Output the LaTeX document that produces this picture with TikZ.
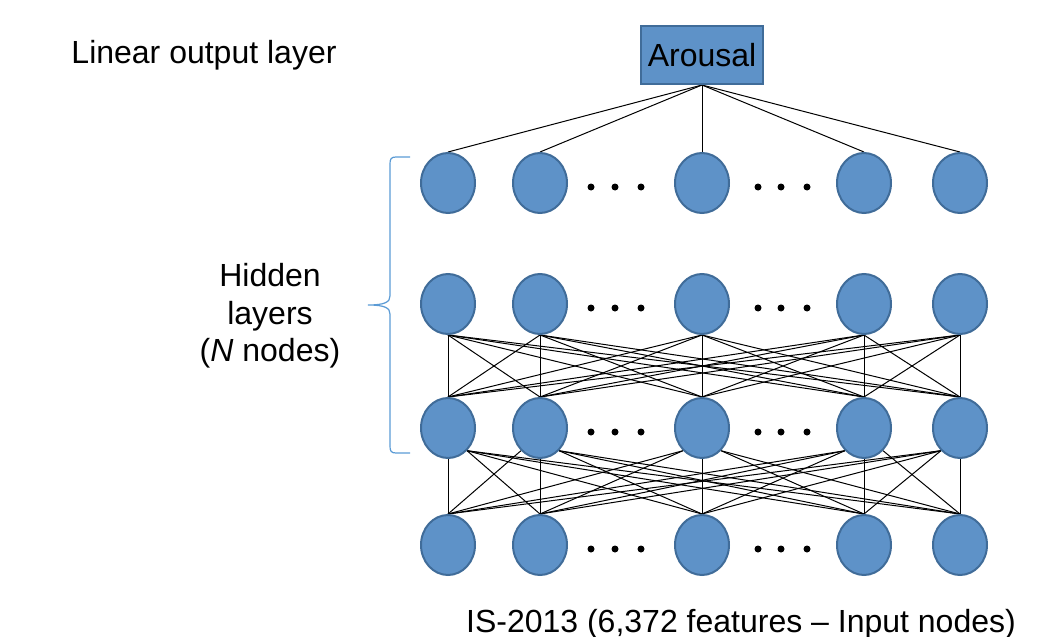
\documentclass[tikz,border=0pt]{standalone}
\usepackage{fontspec}
\setmainfont{Liberation Sans}
\usetikzlibrary{shapes.geometric, backgrounds}
\definecolor{unitblue}{RGB}{94,146,200}
\definecolor{unitedge}{RGB}{64,108,153}
\definecolor{bracecol}{RGB}{91,155,213}
\begin{document}
\begin{tikzpicture}[x=0.5pt,y=-0.5pt,
  unit/.style={ellipse, draw=unitedge, fill=unitblue, line width=1pt, minimum width=27pt, minimum height=30pt, inner sep=0pt},
  outbox/.style={rectangle, draw=unitedge, fill=unitblue, line width=1pt, minimum width=61pt, minimum height=29pt, inner sep=0pt},
  wire/.style={black, line width=0.5pt},
  lbl/.style={font=\fontsize{16}{18.75}\selectfont, inner sep=0pt}]
\useasboundingbox (0,0) rectangle (1057,637);
\node[outbox, font=\fontsize{16}{18.75}\selectfont] (out) at (702,55) {Arousal};
\foreach \r/\y in {1/183, 2/304, 3/428, 4/545}
 {\foreach \c/\x in {1/448, 2/540, 3/702, 4/864, 5/960}
   \node[unit] (n\r\c) at (\x,\y) {};
  \foreach \x in {591, 615, 641, 758, 781, 807}
   \fill (\x,\y+4) circle (3.5);};
\begin{scope}[on background layer]
\foreach \c in {1,...,5} \draw[wire] (out.south) -- (n1\c.north);
\foreach \a in {1,...,5}
 {\foreach \b in {1,...,5}
   {\pgfmathsetmacro{\ang}{\b>\a ? -50 : (\b<\a ? -130 : -90)}
    \draw[wire] (n2\a.south) -- (n3\b.north);
    \draw[wire] (n3\a.\ang) -- (n4\b.north);}};
\end{scope}
% brace round the hidden layers
\draw[bracecol, line width=0.6pt] (410,157) -- (396,157) .. controls (391,157) and (390,159) .. (390,164) -- (390,296)
  .. controls (390,302) and (385,305) .. (368,305) .. controls (385,305) and (390,308) .. (390,314) -- (390,446)
  .. controls (390,451) and (391,453) .. (396,453) -- (410,453);
\node[lbl] (outlbl) at (204,55) {Linear output layer};
\node[lbl, align=center] (hidlbl) at (270,316) {Hidden\\layers\\(\textit{N} nodes)};
\node[lbl] (inlbl) at (741,624) {IS-2013 (6,372 features – Input nodes)};
\end{tikzpicture}
\end{document}
